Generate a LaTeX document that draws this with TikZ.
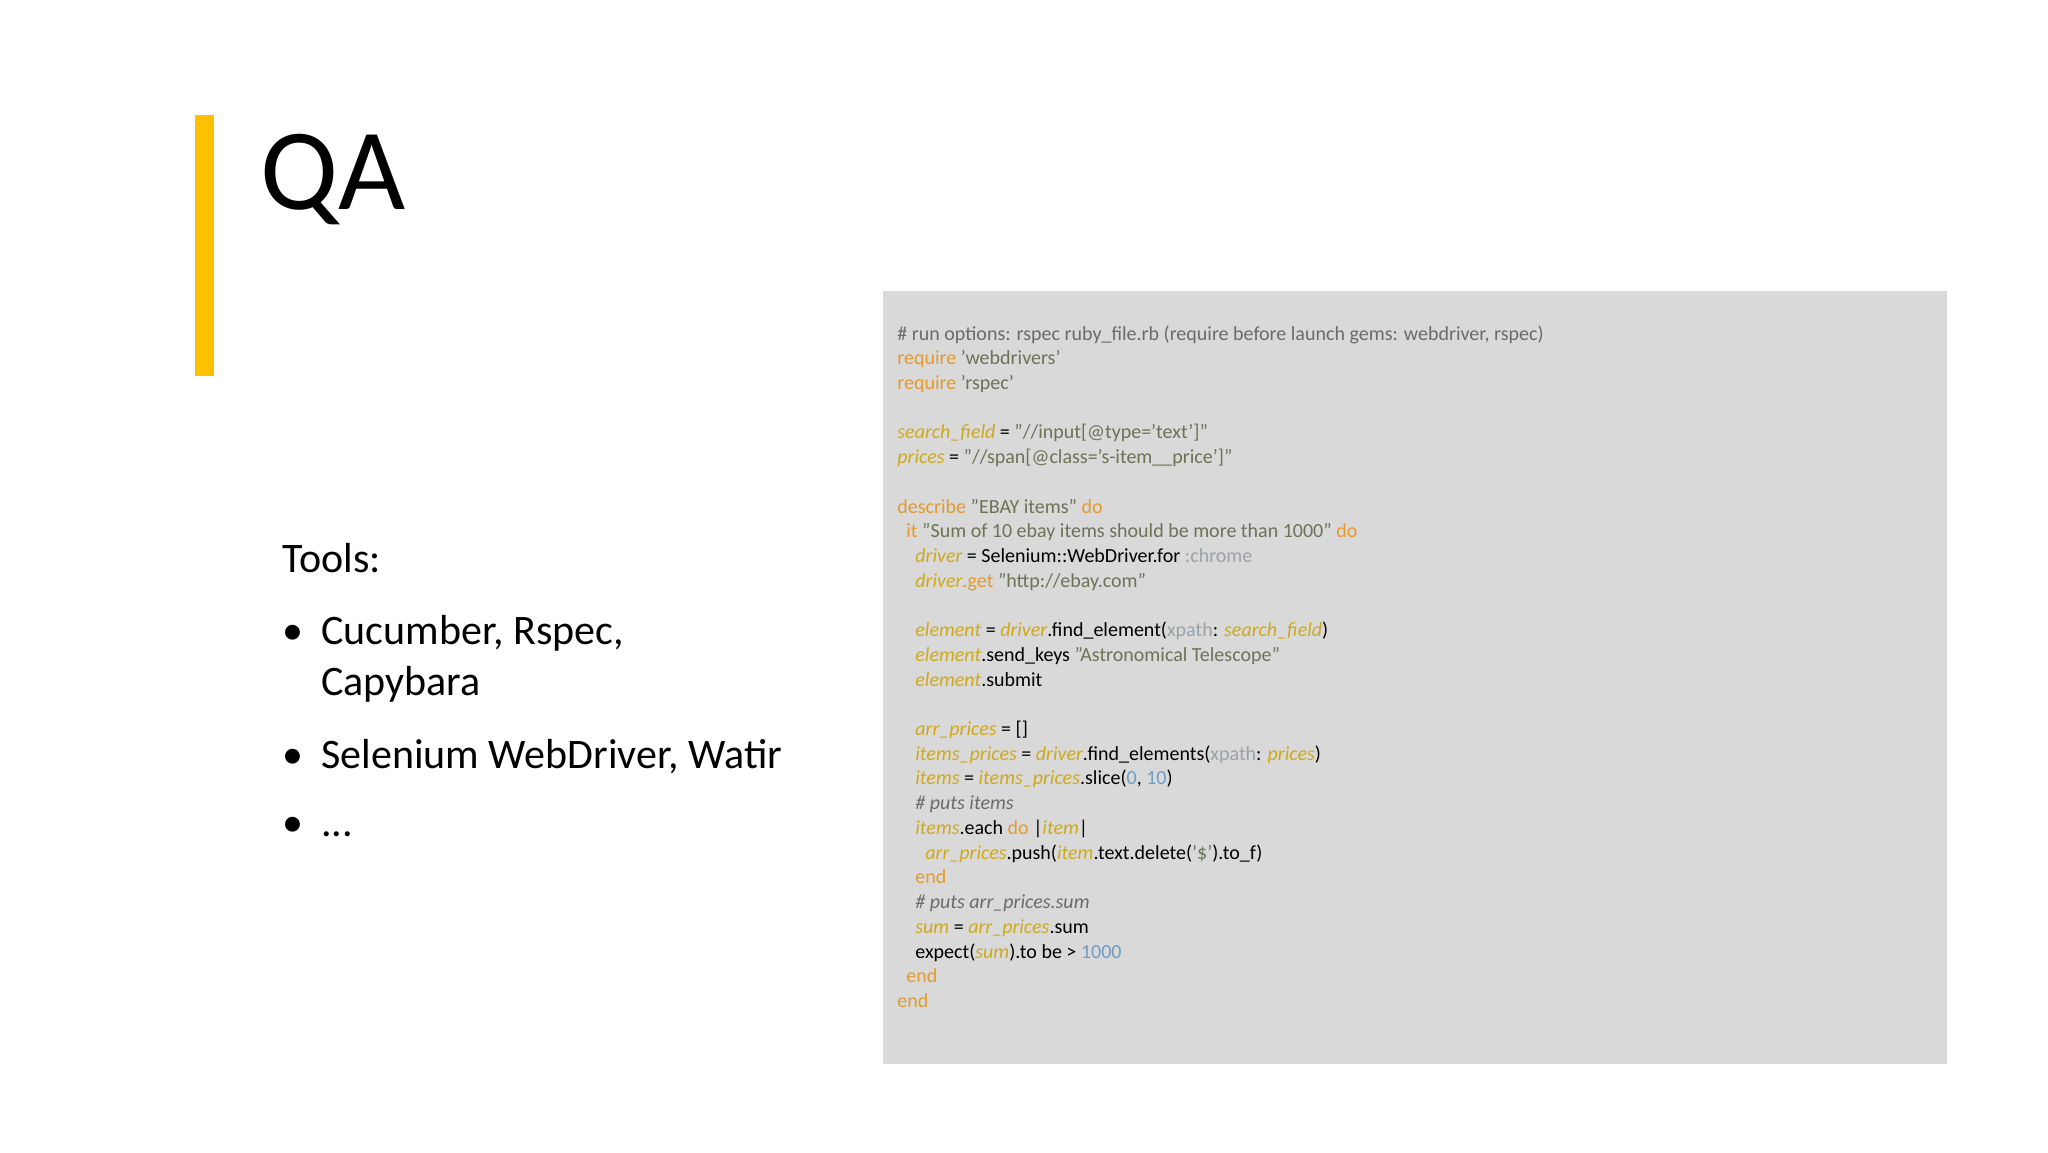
\documentclass[tikz,border=0pt]{standalone}
\usepackage{fontspec}
\setmainfont{Carlito}
\definecolor{barc}{HTML}{FFC000}
\definecolor{boxc}{HTML}{D9D9D9}
\definecolor{kwc}{HTML}{E39A2E}
\definecolor{vac}{HTML}{CFA91C}
\definecolor{stc}{HTML}{6A7457}
\definecolor{cmc}{HTML}{6B6B6B}
\definecolor{nmc}{HTML}{6F9DC4}
\definecolor{syc}{HTML}{96A3A8}
\newcommand{\ckw}[1]{\textcolor{kwc}{#1}}
\newcommand{\cva}[1]{\textcolor{vac}{\itshape #1}}
\newcommand{\cst}[1]{\textcolor{stc}{#1}}
\newcommand{\ccm}[1]{\textcolor{cmc}{#1}}
\newcommand{\cnm}[1]{\textcolor{nmc}{#1}}
\newcommand{\csy}[1]{\textcolor{syc}{#1}}
\tikzset{codeln/.style={anchor=base west,inner sep=0pt,font=\fontsize{10}{12}\selectfont,text=black},
tool/.style={anchor=base west,inner sep=0pt,font=\fontsize{21}{25}\selectfont}}
\begin{document}
\begin{tikzpicture}[x=0.5pt,y=-0.5pt]
\useasboundingbox[fill=white] (0,0) rectangle (2048,1152);
\fill[barc] (195,115) rectangle (214,376);
\node[anchor=base west,inner sep=0pt,font=\fontsize{58}{60}\selectfont] (qa) at (260,209) {QA};
\node[tool] (tl) at (282,572) {Tools:};
\node[tool] (b1) at (282,644) {•};
\node[tool] (t1) at (321,644) {Cucumber, Rspec,};
\node[tool] (t1b) at (321,695) {Capybara};
\node[tool] (b2) at (282,768) {•};
\node[tool] (t2) at (321,768) {Selenium WebDriver, Watir};
\node[tool] (b3) at (282,836) {•};
\node[tool] (t3) at (321,836) {...};
\fill[boxc] (883,291) rectangle (1947,1064);
\def\L#1{340+24.72*#1}
\node[codeln] (c0) at (897,{\L{0}}) {\ccm{\# run options: rspec ruby\_file.rb (require before launch gems: webdriver, rspec)}};
\node[codeln] (c1) at (897,{\L{1}}) {\ckw{require} \cst{'webdrivers'}};
\node[codeln] (c2) at (897,{\L{2}}) {\ckw{require} \cst{'rspec'}};
\node[codeln] (c4) at (897,{\L{4}}) {\cva{search\_field} = \cst{"//input[@type='text']"}};
\node[codeln] (c5) at (897,{\L{5}}) {\cva{prices} = \cst{"//span[@class='s-item\_\_price']"}};
\node[codeln] (c7) at (897,{\L{7}}) {\ckw{describe} \cst{"EBAY items"} \ckw{do}};
\node[codeln] (c8) at (906,{\L{8}}) {\ckw{it} \cst{"Sum of 10 ebay items should be more than 1000"} \ckw{do}};
\node[codeln] (c9) at (915,{\L{9}}) {\cva{driver} = Selenium::WebDriver.for \csy{:chrome}};
\node[codeln] (c10) at (915,{\L{10}}) {\cva{driver}\ckw{.get} \cst{"http://ebay.com"}};
\node[codeln] (c12) at (915,{\L{12}}) {\cva{element} = \cva{driver}.find\_element(\csy{xpath}: \cva{search\_field})};
\node[codeln] (c13) at (915,{\L{13}}) {\cva{element}.send\_keys \cst{"Astronomical Telescope"}};
\node[codeln] (c14) at (915,{\L{14}}) {\cva{element}.submit};
\node[codeln] (c16) at (915,{\L{16}}) {\cva{arr\_prices} = []};
\node[codeln] (c17) at (915,{\L{17}}) {\cva{items\_prices} = \cva{driver}.find\_elements(\csy{xpath}: \cva{prices})};
\node[codeln] (c18) at (915,{\L{18}}) {\cva{items} = \cva{items\_prices}.slice(\cnm{0}, \cnm{10})};
\node[codeln] (c19) at (915,{\L{19}}) {\ccm{\itshape \# puts items}};
\node[codeln] (c20) at (915,{\L{20}}) {\cva{items}.each \ckw{do} |\cva{item}|};
\node[codeln] (c21) at (925,{\L{21}}) {\cva{arr\_prices}.push(\cva{item}.text.delete(\cst{'\$'}).to\_f)};
\node[codeln] (c22) at (915,{\L{22}}) {\ckw{end}};
\node[codeln] (c23) at (915,{\L{23}}) {\ccm{\itshape \# puts arr\_prices.sum}};
\node[codeln] (c24) at (915,{\L{24}}) {\cva{sum} = \cva{arr\_prices}.sum};
\node[codeln] (c25) at (915,{\L{25}}) {expect(\cva{sum}).to be > \cnm{1000}};
\node[codeln] (c26) at (906,{\L{26}}) {\ckw{end}};
\node[codeln] (c27) at (897,{\L{27}}) {\ckw{end}};
\end{tikzpicture}
\end{document}
